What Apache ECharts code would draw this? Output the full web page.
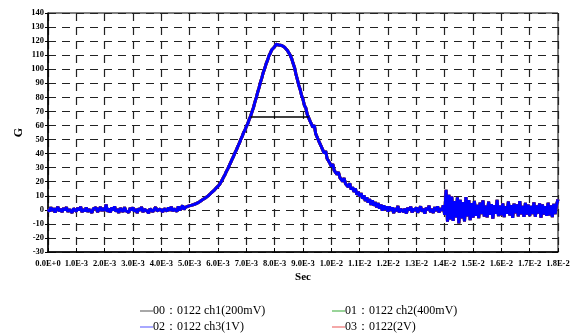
<!DOCTYPE html>
<html>
<head>
<meta charset="utf-8">
<script src="https://cdn.jsdelivr.net/npm/echarts@6/dist/echarts.min.js"></script>
<style>
html,body{margin:0;padding:0;background:#fff;}
#chart{width:575px;height:333px;}
</style>
</head>
<body>
<div id="chart"></div>
<script>
// ---- data ----
var seriesNames = ['00：0122 ch1(200mV)', '01：0122 ch2(400mV)', '02：0122 ch3(1V)', '03：0122(2V)'];
var xTickLabels = ['0.0E+0','1.0E-3','2.0E-3','3.0E-3','4.0E-3','5.0E-3','6.0E-3','7.0E-3','8.0E-3','9.0E-3',
                   '1.0E-2','1.1E-2','1.2E-2','1.3E-2','1.4E-2','1.5E-2','1.6E-2','1.7E-2','1.8E-2'];
var sampleStep = 0.00005; // seconds between samples
var gValues = [
 0.5,-1.2,1.8,-0.6,1.1,-1.9,0.4,2.1,-1.0,0.7,-1.6,1.3,-0.3,1.9,-1.4,0.2,1.6,-2.0,0.9,-0.5,
 -1.1,1.4,-0.2,2.2,-1.7,0.6,-0.9,1.7,-1.3,0.3,1.0,-2.1,0.8,-0.4,1.5,-1.5,0.1,2.0,-0.8,1.2,
 -0.6,3.8,-1.4,0.9,-1.8,1.6,-0.3,2.4,-1.2,0.5,-2.2,1.1,0.2,-1.5,1.8,-0.7,0.4,-1.9,1.3,-0.2,
 1.7,-1.1,0.6,-2.3,1.0,-0.5,2.0,-1.6,0.3,1.4,-0.9,-2.4,0.8,1.5,-1.3,0.1,1.9,-0.8,-1.7,0.5,
 1.2,-1.4,0.9,0.3,-1.0,1.6,-0.6,2.2,-0.9,0.7,1.5,-1.2,2.4,-0.3,1.0,3.1,0.2,1.8,0.6,2.6,
 1.5,3.2,2.1,3.8,2.9,4.6,4.0,5.8,5.1,7.2,6.6,8.4,8.0,9.9,9.6,11.8,11.5,13.6,13.5,15.8,
 16.5,17.8,19.6,21.3,23.4,25.2,27.5,29.3,31.6,33.8,36.0,38.1,40.6,42.6,45.1,47.2,49.9,52.0,54.8,56.6,
 59.3,61.2,64.3,66.5,69.8,72.6,76.4,79.8,83.6,86.9,90.8,94.0,97.9,100.6,104.0,106.5,109.7,111.6,113.9,115.2,
 116.0,117.8,118.9,117.2,118.6,116.9,117.5,115.6,115.9,113.4,112.8,109.9,107.6,104.2,101.3,96.6,92.8,88.7,85.6,81.3,
 78.6,74.2,72.4,67.9,68.6,63.1,64.5,58.7,60.2,54.0,55.1,49.3,50.6,44.8,46.1,40.2,41.8,36.5,37.4,33.1,
 31.0,32.6,28.1,29.4,25.2,26.8,23.0,24.1,20.3,22.5,18.6,19.8,16.2,18.9,14.5,16.1,12.8,15.2,10.7,12.9,
 9.6,11.8,7.9,10.3,6.4,8.9,5.2,7.6,3.6,6.8,2.9,5.4,1.8,4.7,0.9,3.8,-0.6,3.1,0.2,2.4,
 -1.2,2.3,-0.5,1.8,-2.4,1.1,-0.9,2.7,-1.8,0.6,1.9,-1.5,0.8,-2.6,1.6,-0.4,2.2,-1.9,0.9,-0.7,
 1.7,-2.0,0.4,2.5,-1.3,0.8,-2.7,1.4,-0.2,2.9,-1.6,0.5,-2.2,1.9,-0.8,2.4,-1.9,1.2,-0.6,3.2,
 -3.5,14.2,-8.5,10.6,-6.8,9.4,-7.9,6.2,-5.4,8.8,-9.6,7.1,-6.0,5.5,-8.2,9.0,-4.6,6.9,-7.3,4.8,
 -5.6,6.4,-4.2,3.5,-5.9,5.2,-3.1,6.7,-4.8,2.9,-5.3,5.8,-3.6,4.1,-6.2,3.4,-2.8,7.0,-4.5,3.0,
 -3.9,4.6,-5.1,2.6,-2.7,5.9,-4.0,3.3,-5.7,4.4,-2.5,3.8,-4.6,6.1,-3.2,2.7,-5.0,4.9,-3.4,3.6,
 -4.4,2.8,-3.0,5.3,-4.9,3.1,-2.6,4.5,-5.5,3.9,-3.3,2.5,-4.2,5.0,-3.8,3.2,-5.2,4.2,-2.9,3.7,
 7.5
];
var fwhmX = [0.00715, 0.0092];
var fwhmY = 66;

// ---- chart ----
var lineColors = ['#808080', '#00a000', '#0000ff', '#ff0000'];
var legendColors = ['#a8a8a8', '#99d499', '#a8a8ff', '#f4a8a8'];

var pairs = gValues.map(function (v, i) { return [i * sampleStep, v]; });
var serif = '"Liberation Serif", "Times New Roman", serif';

function mkSeries(idx) {
  return {
    name: seriesNames[idx], type: 'line', data: pairs, showSymbol: false, symbol: 'none',
    lineStyle: { color: lineColors[idx], width: 3 }, itemStyle: { color: lineColors[idx] },
    animation: false, silent: true, z: 2
  };
}
var legendPos = [[140, 305], [332, 305], [140, 321], [332, 321]];
var legends = seriesNames.map(function (n, i) {
  return {
    left: legendPos[i][0], top: legendPos[i][1], padding: 0, itemWidth: 13, itemHeight: 2, itemGap: 0,
    data: [{ name: n, icon: 'rect', itemStyle: { color: legendColors[i] } }],
    textStyle: { fontFamily: serif, fontSize: 12, color: '#000', padding: [0, 0, 0, -5] },
    selectedMode: false
  };
});

var chart = echarts.init(document.getElementById('chart'), null, { renderer: 'canvas' });
chart.setOption({
  animation: false,
  backgroundColor: '#fff',
  legend: legends,
  grid: { left: 48, right: 17, top: 13, bottom: 81, show: true, borderColor: '#000', borderWidth: 1 },
  xAxis: {
    type: 'value', min: 0, max: 0.018, interval: 0.001,
    name: 'Sec', nameLocation: 'middle', nameGap: 20, nameMoveOverlap: false,
    nameTextStyle: { fontFamily: serif, fontWeight: 'bold', fontSize: 11, color: '#000' },
    axisLine: { show: true, onZero: false, lineStyle: { color: '#000', width: 1.5 } },
    axisTick: { show: true, inside: true, length: 4, lineStyle: { color: '#000' } },
    axisLabel: {
      fontFamily: serif, fontWeight: 'bold', fontSize: 8.5, color: '#000', margin: 7,
      formatter: function (v) { return xTickLabels[Math.round(v / 0.001)]; }
    },
    splitLine: { show: true, lineStyle: { color: '#222', width: 1.2, type: [8, 6] } }
  },
  yAxis: {
    type: 'value', min: -30, max: 140, interval: 10,
    name: 'G', nameLocation: 'middle', nameGap: 23, nameRotate: 90, nameMoveOverlap: false,
    nameTextStyle: { fontFamily: serif, fontWeight: 'bold', fontSize: 12, color: '#000' },
    axisLine: { show: true, lineStyle: { color: '#000', width: 1.5 } },
    axisTick: { show: true, inside: false, length: 3, lineStyle: { color: '#000' } },
    axisLabel: { fontFamily: serif, fontWeight: 'bold', fontSize: 8.5, color: '#000', margin: 4 },
    splitLine: { show: true, lineStyle: { color: '#222', width: 1.2, type: [8, 6] } }
  },
  series: [
    mkSeries(0), mkSeries(1), mkSeries(3), mkSeries(2),
    {
      name: 'fwhm', type: 'line', data: [[fwhmX[0], fwhmY], [fwhmX[1], fwhmY]],
      showSymbol: false, symbol: 'none', lineStyle: { color: '#000', width: 1.5 }, z: 3, silent: true
    }
  ]
});
</script>
</body>
</html>
